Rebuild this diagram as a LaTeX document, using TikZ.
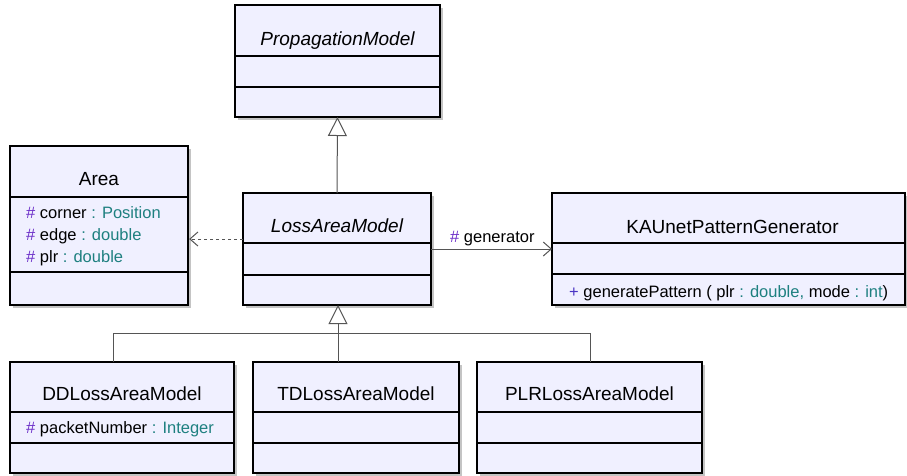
\documentclass[tikz,border=0pt]{standalone}
\usepackage{fontspec}
\setmainfont{Liberation Sans}
\usetikzlibrary{arrows.meta,calc}
\definecolor{boxfill}{HTML}{F0F0FF}
\definecolor{shadowc}{HTML}{C4C4C4}
\definecolor{hashc}{HTML}{6A2CC8}
\definecolor{plusc}{HTML}{4A34C4}
\definecolor{typec}{HTML}{1E8080}
\definecolor{linkc}{HTML}{555555}
\newcommand{\hs}{\textcolor{hashc}{\#}}
\newcommand{\ty}[1]{\textcolor{typec}{#1}}
\newcommand{\mkclass}[7]{%
  \fill[shadowc] (#2+3,#3+3) rectangle ++(#4,#5);
  \node[classbox, minimum width=#4pt, minimum height=#5pt, anchor=north west] (#1) at (#2,#3) {};
  \draw[divider] ($(#1.north west)+(0,#6)$) -- ($(#1.north east)+(0,#6)$);
  \draw[divider] ($(#1.north west)+(0,#7)$) -- ($(#1.north east)+(0,#7)$);
}
\begin{document}
\begin{tikzpicture}[x=1pt,y=-1pt,
  classbox/.style={draw=black, fill=boxfill, line width=1.8pt, inner sep=0pt, outer sep=0pt},
  divider/.style={draw=black, line width=1.5pt},
  title/.style={anchor=base, inner sep=0pt, font=\fontsize{19}{23}\selectfont},
  attr/.style={anchor=base west, inner sep=0pt, font=\fontsize{16.5}{20}\selectfont},
  link/.style={draw=linkc, line width=1pt},
  gen/.style={link, -{Triangle[open, length=19pt, width=19pt, fill=white, line width=1pt]}},
  assoc/.style={link, -{Straight Barb[length=8pt, width=14pt, line width=1pt]}},
  dep/.style={link, dash pattern=on 3pt off 3pt, -{Straight Barb[length=8pt, width=14pt, line width=1pt, sep]}}
]
\useasboundingbox (0,0) rectangle (907,475);
\fill[white] (0,0) rectangle (907,475);

\mkclass{prop}{235}{5}{205}{112}{51}{82}
\mkclass{area}{10}{146}{178}{159}{51}{126}
\mkclass{loss}{243}{193}{188}{112}{50}{82}
\mkclass{kau}{552}{193}{353}{112}{50}{81}
\mkclass{dd}{10}{362}{224}{111}{50}{81}
\mkclass{td}{253}{362}{206}{111}{50}{81}
\mkclass{plr}{477}{362}{225}{111}{50}{81}

% titles
\node[title, font=\fontsize{19}{23}\selectfont\itshape] (propT) at ($(prop.north)+(0,40)$) {PropagationModel};
\node[title] (areaT) at ($(area.north)+(0,39)$) {Area};
\node[title, font=\fontsize{19}{23}\selectfont\itshape] (lossT) at ($(loss.north)+(0,39)$) {LossAreaModel};
\node[title] (kauT) at ($(kau.north)+(4,40)$) {KAUnetPatternGenerator};
\node[title] (ddT) at ($(dd.north)+(0,38)$) {DDLossAreaModel};
\node[title] (tdT) at ($(td.north)+(0,38)$) {TDLossAreaModel};
\node[title] (plrT) at ($(plr.north)+(0,38)$) {PLRLossAreaModel};

% attributes
\node[attr] (a1) at ($(area.north west)+(16,72)$) {\hs{} corner \ty{: Position}};
\node[attr] (a2) at ($(area.north west)+(16,94)$) {\hs{} edge \ty{: double}};
\node[attr] (a3) at ($(area.north west)+(16,116)$) {\hs{} plr \ty{: double}};
\node[attr] (d1) at ($(dd.north west)+(16,71)$) {\hs{} packetNumber \ty{: Integer}};
\node[attr] (k1) at ($(kau.north west)+(17,104)$) {\textcolor{plusc}{+} generatePattern ( plr \ty{: double,} mode \ty{: int})};

% generalization PropagationModel <- LossAreaModel
\draw[gen] (loss.north) -- (prop.south);

% dependency LossAreaModel -> Area
\coordinate (depS) at ($(loss.west)+(0,-10)$);
\draw[dep] (depS) -- (depS -| area.east);

% association generator
\draw[assoc] (loss.east) -- (kau.west);
\node[attr] (genL) at (450,242) {\hs{} generator};

% subclass tree
\coordinate (bus) at (338,333);
\coordinate (ddc) at ($(dd.north west)+(103,0)$);
\coordinate (tdc) at ($(td.north west)+(85,0)$);
\coordinate (plrc) at ($(plr.north west)+(113,0)$);
\draw[link] (ddc) |- (plrc |- bus) -- (plrc);
\draw[gen] (tdc) -- (tdc |- loss.south);
\end{tikzpicture}
\end{document}
